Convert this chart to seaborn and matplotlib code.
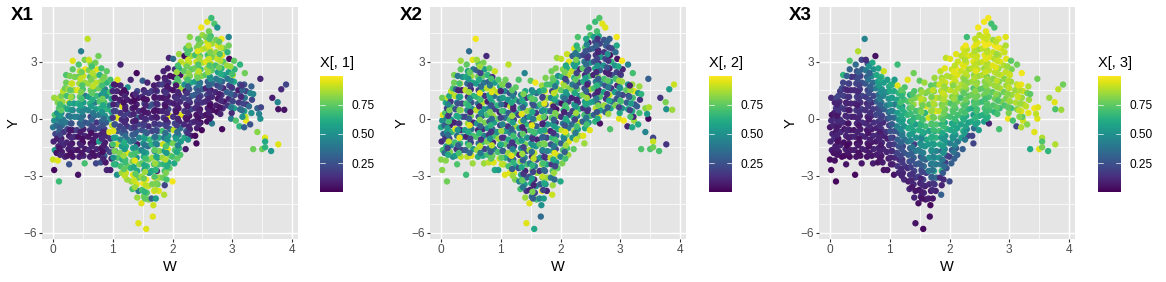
import matplotlib
matplotlib.use("Agg")
import matplotlib.pyplot as plt
from matplotlib.cm import ScalarMappable
from matplotlib.colors import Normalize
from matplotlib.ticker import FixedLocator
import pandas as pd
import seaborn as sns

W = [
.02,.00,.03,.01,.04,.00,.02,.03,.02,
.10,.08,.06,.09,.07,.10,.06,.09,.07,.10,.08,.11,
.20,.15,.17,.14,.18,.15,.17,.14,.18,.16,.14,.17,.20,
.27,.24,.26,.23,.27,.24,.22,.26,.24,.27,.23,.25,.22,.22,
.33,.35,.32,.36,.33,.31,.36,.33,.35,.32,.35,.32,.36,.33,.33,
.42,.44,.41,.45,.42,.40,.45,.41,.44,.42,.45,.41,.44,.42,.45,.43,
.53,.51,.54,.50,.53,.51,.54,.50,.53,.51,.54,.50,.53,.51,.54,.53,.47,
.62,.60,.63,.59,.62,.60,.63,.59,.62,.60,.63,.59,.62,.60,.63,.60,.58,
.72,.70,.73,.69,.72,.70,.73,.69,.72,.70,.73,.69,.72,.70,.73,.71,.76,
.80,.78,.81,.77,.80,.78,.81,.77,.80,.78,.81,.77,.80,.78,.81,
.90,.88,.86,.89,.87,.90,.86,.89,.87,.90,.86,.89,.87,.90,.86,.90,
.96,.98,.95,.99,.96,.94,.99,.96,.98,.95,.98,.95,.99,.96,
1.07,1.05,1.08,1.04,1.07,1.05,1.08,1.04,1.07,1.05,1.08,1.04,1.07,1.05,1.08,
1.15,1.13,1.16,1.12,1.15,1.13,1.16,1.12,1.15,1.13,1.16,1.12,1.15,1.13,1.13,
1.24,1.22,1.25,1.21,1.24,1.22,1.25,1.21,1.24,1.22,1.25,1.21,1.24,1.22,1.25,
1.33,1.31,1.34,1.30,1.33,1.31,1.34,1.30,1.33,1.31,1.34,1.30,1.33,1.31,1.34,1.30,
1.43,1.41,1.43,1.40,1.43,1.41,1.44,1.40,1.43,1.41,1.44,1.40,1.43,1.41,1.44,1.40,1.43,1.41,1.40,
1.48,1.52,1.49,1.51,1.48,1.53,1.49,1.52,1.48,1.51,1.53,1.49,1.52,1.48,1.51,1.53,1.49,1.52,1.50,
1.56,1.60,1.57,1.59,1.56,1.61,1.57,1.60,1.56,1.59,1.61,1.57,1.60,1.56,1.59,1.61,1.57,1.60,1.58,
1.67,1.68,1.65,1.69,1.66,1.70,1.65,1.69,1.66,1.70,1.65,1.69,1.66,1.70,1.65,1.69,1.66,1.70,1.65,1.69,
1.77,1.75,1.78,1.74,1.77,1.75,1.78,1.74,1.77,1.75,1.78,1.74,1.77,1.75,1.78,1.74,1.77,1.75,
1.86,1.87,1.84,1.87,1.85,1.83,1.87,1.84,1.86,1.83,1.87,1.85,1.83,1.87,1.84,1.86,1.83,1.87,1.85,
1.95,1.93,1.96,1.92,1.95,1.93,1.96,1.92,1.95,1.93,1.96,1.92,1.95,1.93,1.96,1.92,1.94,
2.00,2.03,2.00,2.04,2.01,2.05,2.02,2.04,2.01,2.05,2.02,2.04,2.01,2.05,2.02,2.04,2.01,
2.13,2.11,2.14,2.10,2.13,2.11,2.14,2.10,2.13,2.11,2.14,2.10,2.13,2.11,2.14,2.11,
2.22,2.20,2.23,2.19,2.22,2.20,2.23,2.19,2.22,2.20,2.23,2.19,2.22,2.20,2.23,
2.31,2.29,2.32,2.28,2.31,2.29,2.32,2.28,2.31,2.29,2.32,2.28,2.31,2.29,2.29,
2.40,2.38,2.41,2.37,2.40,2.38,2.41,2.37,2.40,2.38,2.41,2.37,2.40,2.38,2.41,
2.49,2.47,2.50,2.46,2.49,2.47,2.50,2.46,2.49,2.47,2.50,2.46,2.49,2.47,2.50,2.48,
2.58,2.56,2.59,2.55,2.58,2.56,2.59,2.55,2.58,2.56,2.59,2.55,2.58,2.56,2.58,
2.66,2.64,2.67,2.63,2.66,2.64,2.67,2.63,2.66,2.64,2.67,2.63,2.66,2.64,2.65,2.70,
2.75,2.73,2.76,2.72,2.75,2.73,2.76,2.72,2.75,2.73,2.76,2.73,2.75,
2.83,2.84,2.86,2.82,2.85,2.83,2.86,2.82,2.85,2.83,2.86,2.82,
2.92,2.94,2.91,2.95,2.92,2.94,2.91,2.95,2.92,2.94,2.94,
2.98,3.03,3.01,3.04,3.00,3.03,3.01,3.04,3.03,
3.12,3.06,3.13,3.11,3.14,3.10,3.13,3.13,
3.20,3.23,3.22,3.20,3.24,3.21,3.23,3.20,3.21,
3.35,3.30,3.32,3.28,3.33,3.30,3.32,
3.42,3.42,3.47,3.48,3.50,3.47,3.45,3.55,3.55,3.55,3.65,3.67,3.77,3.77,3.76,3.82,3.87,3.90,3.35,
]

Y = [
-2.7,-2.15,-1.65,-1.2,-.8,-.45,-.1,.2,1.1,
-3.3,-2.2,-1.8,-1.45,-1.05,-.7,-.35,.0,.3,.55,.85,1.1,
-2.0,-1.75,-1.4,-1.05,-.7,-.35,-.05,.3,.6,.9,1.2,1.45,1.6,
-2.4,-1.95,-1.6,-1.25,-.9,-.55,-.2,.15,.5,.85,1.2,1.55,1.9,2.3,
-2.0,-1.65,-1.3,-.95,-.6,-.25,.1,.45,.8,1.15,1.5,1.85,2.2,2.6,3.05,
-2.95,-2.0,-1.65,-1.3,-.95,-.6,-.25,.1,.45,.8,1.15,1.5,1.85,2.2,2.5,2.85,
-2.35,-1.95,-1.6,-1.25,-.9,-.55,-.2,.15,.5,.85,1.2,1.55,1.9,2.25,2.6,3.1,3.55,
-2.0,-1.65,-1.3,-.95,-.6,-.25,.1,.45,.8,1.15,1.5,1.85,2.2,2.55,2.9,3.1,4.2,
-2.35,-1.95,-1.6,-1.25,-.9,-.55,-.2,.15,.5,.85,1.2,1.55,1.9,2.25,2.6,2.95,3.3,
-2.3,-1.9,-1.55,-1.2,-.85,-.5,-.15,.2,.55,.9,1.25,1.6,1.95,2.3,2.65,
-2.7,-2.3,-1.95,-1.6,-1.25,-.9,-.55,-.2,.15,.5,.85,1.2,1.55,1.9,2.2,2.5,
-2.7,-2.1,-1.75,-1.4,-1.05,-.7,-.35,.0,.35,.7,1.05,1.4,1.7,2.05,
-2.95,-2.4,-2.05,-1.7,-1.35,-1.0,-.65,-.3,.05,.4,.75,1.1,1.45,1.8,2.05,
-2.85,-2.5,-2.15,-1.8,-1.45,-1.1,-.75,-.4,-.05,.3,.65,1.0,1.35,1.75,2.85,
-3.2,-2.85,-2.5,-2.15,-1.8,-1.45,-1.1,-.75,-.4,-.05,.3,.65,1.0,1.35,1.65,
-3.7,-3.3,-2.95,-2.6,-2.25,-1.9,-1.55,-1.2,-.85,-.5,-.15,.2,.55,.9,1.25,2.05,
-5.5,-4.15,-3.8,-3.45,-3.1,-2.75,-2.4,-2.05,-1.7,-1.35,-1.0,-.65,-.3,.05,.4,.75,1.1,1.45,2.4,
-4.45,-4.1,-3.75,-3.4,-3.05,-2.7,-2.35,-2.0,-1.65,-1.3,-.95,-.6,-.25,.1,.45,.8,1.15,1.5,2.0,
-5.8,-4.25,-3.9,-3.55,-3.2,-2.85,-2.5,-2.15,-1.8,-1.45,-1.1,-.75,-.4,-.05,.3,.65,1.0,1.35,1.9,
-5.15,-4.55,-4.2,-3.8,-3.45,-3.1,-2.75,-2.4,-2.05,-1.7,-1.35,-1.0,-.65,-.3,.05,.4,.75,1.1,1.45,1.75,
-3.8,-3.45,-3.1,-2.75,-2.4,-2.05,-1.7,-1.35,-1.0,-.65,-.3,.05,.4,.75,1.1,1.45,1.8,2.15,
-4.0,-3.5,-3.1,-2.75,-2.4,-2.05,-1.7,-1.35,-1.0,-.65,-.3,.05,.4,.75,1.1,1.45,1.8,2.15,2.5,
-2.6,-2.3,-1.95,-1.6,-1.25,-.9,-.55,-.2,.15,.5,.85,1.2,1.55,1.9,2.25,2.65,3.2,
-3.3,-2.35,-2.0,-1.65,-1.3,-.95,-.6,-.25,.1,.45,.8,1.15,1.5,1.85,2.2,2.6,3.15,
-1.9,-1.55,-1.2,-.85,-.5,-.15,.2,.55,.9,1.25,1.6,1.95,2.3,2.65,3.0,3.4,
-1.6,-1.0,-.65,-.3,.05,.4,.75,1.1,1.45,1.8,2.15,2.5,2.85,3.3,3.7,
-.9,-.55,-.2,.15,.5,.85,1.2,1.55,1.9,2.25,2.6,2.95,3.3,3.65,4.3,
-1.3,-.9,-.5,-.15,.2,.55,.9,1.25,1.6,1.95,2.3,2.65,3.0,3.35,3.75,
-.6,-.2,.15,.5,.85,1.2,1.55,1.9,2.25,2.6,2.95,3.3,3.65,4.0,4.4,4.8,
-.15,.2,.55,.9,1.25,1.6,1.95,2.3,2.65,3.0,3.35,3.7,4.05,4.3,5.1,
-.25,.1,.45,.8,1.15,1.5,1.85,2.2,2.55,2.9,3.25,3.6,3.95,4.35,5.3,5.0,
.35,.7,1.05,1.4,1.75,2.1,2.45,2.8,3.15,3.5,3.85,4.15,4.8,
-.55,.55,.9,1.25,1.6,1.95,2.3,2.65,3.0,3.35,3.7,4.2,
.7,1.05,1.4,1.75,2.1,2.45,2.8,3.15,3.5,3.85,4.3,
.0,.55,.9,1.25,1.6,1.95,2.3,2.6,3.05,
-.4,-.1,.5,.85,1.2,1.5,1.8,2.85,
-.45,-.1,.1,.4,.75,1.1,1.45,1.8,2.4,
-1.6,-.3,.3,.65,1.0,1.35,1.7,
-.7,.55,2.1,.6,-1.6,.0,.25,-1.0,-1.2,-1.5,-1.7,1.1,.5,-1.35,.87,1.55,.47,1.8,1.3,
]

X1 = [
.02,.92,.55,.1,.2,.4,.5,.72,.85,
.68,.95,.05,.1,.08,.3,.35,.45,.5,.72,.8,.88,
.1,.08,.12,.06,.15,.35,.42,.48,.65,.85,.8,.9,.78,
.25,.05,.08,.1,.07,.2,.4,.35,.6,.95,.7,.85,.78,.72,
.05,.1,.06,.15,.08,.3,.45,.38,.55,.7,.85,.92,.8,.75,.95,
.05,.08,.05,.1,.04,.18,.3,.42,.5,.62,.75,.95,.85,.78,.9,.72,
.7,.1,.06,.04,.12,.08,.25,.35,.48,.55,.4,.72,.85,.92,.98,.8,.42,
.08,.12,.04,.06,.15,.28,.2,.45,.65,.55,.78,.85,.72,.8,.82,.92,.9,
.2,.05,.1,.04,.08,.2,.15,.35,.55,.42,.68,.72,.9,.85,.95,.78,.78,
.25,.08,.05,.55,.1,.22,.3,.4,.62,.72,.5,.78,.85,.65,.7,
.1,.06,.3,.15,.08,.12,.18,.3,.5,.65,.72,.5,.42,.65,.8,.75,
.08,.1,.2,.12,.15,.95,.9,.5,.6,.45,.55,.7,.62,.7,
.5,.58,.72,.45,.9,.6,.25,.3,.95,.25,.18,.1,.1,.05,.95,
.85,.7,.62,.8,.55,.45,.3,.2,.12,.15,.95,.08,.05,.1,.1,
.85,.92,.78,.7,.95,.6,.4,.25,.15,.1,.22,.12,.08,.05,.5,
.7,.85,.95,.65,.8,.72,.55,.45,.3,.22,.1,.15,.08,.05,.04,.1,
.95,.85,.4,.95,.75,.6,.82,.5,.72,.08,.45,.3,.2,.35,.12,.1,.05,.22,.02,
.95,.8,.7,.98,.85,.55,.75,.62,.45,.5,.6,.25,.15,.1,.05,.2,.12,.08,.3,
.95,.8,.72,.92,.98,.5,.65,.78,.6,.35,.7,.25,.12,.2,.08,.3,.05,.15,.1,
.95,.92,.3,.95,.8,.98,.6,.72,.85,.45,.65,.55,.2,.3,.12,.05,.25,.1,.18,.08,
.95,.75,.85,.1,.7,.55,.8,.4,.6,.25,.18,.1,.06,.15,.08,.2,.12,.05,
.88,.2,.78,.7,.65,.85,.55,.92,.4,.7,.2,.15,.1,.08,.05,.12,.18,.06,.1,
.75,.6,.82,.95,.65,.55,.3,.15,.98,.2,.1,.05,.08,.12,.04,.08,.1,
.98,.6,.7,.72,.8,.45,.9,.2,.15,.1,.08,.12,.05,.7,.04,.15,.35,
.72,.65,.55,.45,.35,.1,.95,.06,.12,.1,.85,.75,.05,.65,.9,.85,
.08,.6,.3,.12,.08,.15,.1,.2,.05,.5,.85,.75,.9,.03,.72,
.08,.1,.15,.05,.2,.12,.3,.25,.6,.8,.75,.9,.85,.72,.82,
.02,.02,.08,.1,.05,.12,.2,.3,.35,.55,.85,.78,.92,.7,.8,
.02,.05,.1,.06,.15,.2,.3,.35,.82,.7,.88,.75,.92,.8,.85,.98,
.03,.05,.08,.12,.2,.1,.3,.75,.85,.95,.7,.88,.92,.8,.95,
.4,.08,.04,.1,.12,.05,.35,.55,.75,.9,.8,.95,.85,.7,.68,.72,
.03,.08,.05,.12,.2,.4,.55,.7,.92,.85,.95,.8,.5,
.02,.12,.06,.15,.1,.3,.55,.65,.75,.95,.8,.98,
.15,.1,.3,.2,.4,.55,.85,.02,.65,.78,.45,
.42,.55,.3,.2,.35,.6,.9,.65,.75,
.65,.72,.35,.15,.25,.08,.3,.65,
.3,.98,.9,.55,.15,.4,.2,.25,.78,
.78,.25,.5,.35,.2,.45,.3,
.82,.3,.1,.2,.78,.5,.45,.95,.6,.65,.52,.08,.05,.95,.45,.12,.05,.2,.45,
]

X2 = [
.82,.82,.7,.12,.3,.6,.5,.95,.78,
.78,.82,.35,.6,.15,.5,.3,.45,.72,.2,.6,.9,
.45,.8,.5,.2,.65,.08,.55,.3,.7,.15,.6,.9,.72,
.72,.55,.15,.7,.35,.95,.1,.6,.25,.5,.9,.35,.78,.8,
.9,.2,.65,.45,.12,.7,.3,.85,.2,.6,.08,.95,.5,.75,.85,
.68,.9,.3,.6,.1,.55,.85,.2,.45,.7,.15,.9,.35,.6,.55,.75,
.85,.95,.55,.2,.7,.35,.1,.8,.5,.25,.65,.12,.6,.85,.4,.95,.35,
.6,.85,.35,.72,.1,.5,.25,.9,.4,.65,.2,.55,.78,.3,.7,.85,.98,
.85,.6,.2,.7,.45,.12,.8,.3,.55,.9,.15,.65,.4,.75,.55,.8,.12,
.9,.7,.35,.8,.15,.55,.25,.7,.45,.1,.6,.9,.3,.65,.75,
.6,.95,.78,.4,.12,.7,.3,.55,.85,.2,.65,.35,.9,.55,.15,.92,
.55,.92,.7,.3,.85,.5,.2,.75,.1,.65,.4,.9,.55,.72,
.95,.88,.6,.3,.75,.15,.55,.85,.35,.6,.1,.7,.45,.8,.78,
.95,.7,.35,.85,.2,.6,.45,.15,.7,.3,.9,.5,.25,.22,.9,
.8,.95,.55,.3,.75,.15,.6,.4,.85,.2,.5,.1,.65,.3,.75,
.7,.45,.6,.25,.85,.1,.5,.7,.3,.55,.9,.2,.65,.35,.5,.72,
.95,.85,.15,.55,.3,.1,.7,.45,.25,.8,.5,.12,.65,.3,.85,.55,.15,.6,.45,
.95,.35,.1,.6,.25,.75,.4,.15,.85,.5,.3,.7,.1,.55,.8,.25,.65,.45,.75,
.6,.7,.2,.5,.12,.85,.4,.25,.9,.55,.1,.65,.3,.8,.15,.5,.7,.35,.98,
.35,.5,.45,.95,.3,.7,.15,.85,.5,.2,.75,.35,.6,.1,.9,.4,.7,.25,.55,.85,
.1,.5,.85,.3,.6,.15,.45,.75,.2,.9,.5,.1,.65,.3,.85,.95,.7,.8,
.92,.85,.4,.7,.15,.9,.5,.25,.65,.1,.55,.75,.3,.9,.45,.2,.7,.8,.78,
.75,.5,.9,.2,.7,.35,.6,.15,.8,.05,.4,.7,.9,.6,.5,.8,.85,
.6,.8,.45,.72,.3,.55,.9,.4,.15,.65,.05,.5,.75,.95,.65,.82,.9,
.85,.7,.95,.75,.4,.6,.2,.7,.15,.5,.82,.3,.9,.65,.95,.92,
.75,.5,.85,.35,.65,.2,.55,.1,.8,.4,.6,.9,.55,.3,.95,
.85,.55,.9,.4,.65,.15,.5,.75,.2,.8,.1,.6,.35,.7,.72,
.85,.95,.6,.3,.7,.15,.55,.8,.25,.6,.1,.75,.4,.2,.75,
.95,.5,.7,.25,.6,.1,.85,.35,.7,.15,.5,.2,.25,.12,.72,.7,
.65,.3,.9,.55,.15,.7,.4,.1,.6,.25,.15,.3,.2,.55,.68,
.05,.95,.55,.2,.7,.1,.45,.8,.3,.15,.55,.12,.2,.6,.72,.95,
.3,.85,.15,.6,.25,.7,.1,.5,.2,.15,.3,.25,.95,
.72,.6,.35,.9,.15,.55,.25,.1,.65,.05,.2,.3,
.8,.25,.55,.1,.7,.2,.5,.05,.35,.6,.98,
.95,.5,.75,.2,.6,.85,.25,.1,.98,
.1,.98,.6,.3,.15,.75,.5,.45,
.6,.85,.1,.6,.25,.7,.95,.85,.7,
.72,.6,.7,.3,.15,.5,.85,
.45,.82,.3,.88,.72,.02,.55,.2,.92,.78,.7,.15,.5,.15,.8,.55,.85,.92,.65,
]

X3 = [
.03,.03,.08,.1,.1,.06,.12,.05,.12,
.02,.04,.05,.08,.12,.06,.1,.13,.08,.15,.1,.2,
.03,.06,.1,.05,.12,.08,.14,.1,.18,.12,.2,.16,.22,
.05,.03,.08,.04,.1,.06,.12,.1,.15,.08,.18,.14,.2,.65,
.03,.07,.05,.1,.06,.12,.08,.14,.1,.16,.12,.2,.15,.3,.72,
.03,.05,.08,.04,.1,.06,.12,.09,.15,.1,.18,.12,.2,.16,.25,.35,
.06,.05,.09,.06,.12,.08,.14,.1,.18,.13,.22,.16,.25,.2,.3,.2,.88,
.05,.08,.06,.1,.07,.12,.09,.14,.11,.17,.2,.26,.3,.4,.25,.12,.45,
.08,.05,.1,.06,.12,.08,.14,.1,.17,.13,.22,.3,.35,.45,.5,.6,.05,
.05,.08,.1,.07,.12,.09,.15,.2,.18,.3,.35,.42,.55,.6,.58,
.05,.08,.06,.1,.12,.09,.15,.12,.2,.3,.4,.45,.5,.55,.65,.92,
.05,.07,.1,.12,.08,.15,.18,.22,.35,.42,.5,.48,.6,.55,
.05,.08,.12,.15,.18,.12,.25,.3,.35,.45,.4,.5,.6,.55,.55,
.1,.15,.12,.2,.25,.3,.28,.45,.5,.55,.62,.58,.65,.95,.68,
.12,.1,.18,.15,.25,.2,.35,.45,.5,.58,.62,.55,.68,.72,.72,
.1,.08,.15,.12,.22,.28,.3,.4,.52,.6,.58,.65,.7,.72,.62,.95,
.05,.1,.06,.12,.15,.2,.25,.3,.42,.18,.5,.6,.55,.65,.7,.85,.8,.72,.78,
.04,.08,.05,.1,.18,.2,.28,.25,.42,.5,.55,.62,.65,.7,.75,.88,.82,.78,.75,
.02,.06,.1,.08,.2,.18,.35,.3,.45,.5,.6,.55,.68,.72,.65,.95,.85,.8,.85,
.04,.02,.08,.05,.12,.3,.4,.35,.5,.42,.55,.62,.58,.68,.92,.85,.78,.9,.82,.75,
.1,.15,.35,.6,.4,.5,.45,.55,.65,.6,.72,.78,.95,.85,.9,.82,.78,.85,
.3,.1,.12,.65,.4,.5,.35,.6,.55,.7,.65,.8,.9,.78,.85,.88,.92,.85,.9,
.25,.18,.2,.45,.55,.5,.65,.6,.72,.78,.82,.9,.85,.92,.88,.95,.9,
.22,.3,.18,.28,.42,.5,.6,.58,.7,.75,.72,.82,.9,.95,.88,.92,.95,
.3,.28,.4,.5,.58,.65,.7,.72,.78,.82,.88,.9,.95,.98,.92,.95,
.3,.55,.62,.58,.65,.72,.78,.7,.82,.88,.85,.92,.95,.9,.95,
.2,.45,.55,.6,.65,.72,.75,.8,.82,.88,.85,.92,.95,.9,.68,
.2,.2,.35,.6,.55,.62,.7,.78,.72,.85,.82,.9,.95,.92,.98,
.55,.6,.62,.68,.72,.78,.75,.82,.85,.9,.88,.92,.85,.95,.9,.98,
.55,.62,.7,.68,.78,.75,.82,.88,.85,.92,.95,.9,.98,.92,.98,
.1,.65,.7,.75,.72,.8,.85,.78,.9,.88,.95,.85,.98,.92,.98,.7,
.65,.72,.78,.75,.85,.82,.9,.95,.88,.92,.98,.85,.7,
.7,.68,.8,.75,.88,.82,.92,.85,.95,.9,.92,.95,
.72,.8,.78,.85,.82,.9,.88,.95,.92,.88,.95,
.98,.7,.82,.85,.9,.85,.92,.8,.75,
.2,.7,.8,.88,.92,.85,.9,.78,
.88,.92,.75,.95,.88,.85,.92,.98,.98,
.6,.82,.95,.9,.85,.8,.88,
.95,.98,.78,.95,.95,.95,.9,.88,.72,.8,.65,.85,.72,.88,.95,.9,.85,.78,.75,
]

# Second set of points, read from the dense core of the cloud
W_CORE = [
.12,.11,.13,.12,.11,.13,.12,.14,.12,
.30,.29,.31,.28,.30,.29,.31,.28,.30,.29,.31,.28,
.48,.47,.49,.46,.48,.47,.49,.46,.48,.47,.49,.46,.48,
.66,.65,.67,.64,.66,.65,.67,.64,.66,.65,.67,.64,.66,.65,
.84,.83,.85,.82,.84,.83,.85,.82,.84,.83,.85,.82,.84,
1.02,1.01,1.03,1.00,1.02,1.01,1.03,1.00,1.02,1.01,1.03,1.00,1.02,
1.20,1.19,1.21,1.18,1.20,1.19,1.21,1.18,1.20,1.19,1.21,1.18,1.20,1.19,
1.37,1.36,1.38,1.35,1.37,1.36,1.38,1.35,1.37,1.36,1.38,1.35,1.37,1.36,1.38,
1.54,1.53,1.55,1.52,1.54,1.53,1.55,1.52,1.54,1.53,1.55,1.52,1.54,1.53,1.55,1.52,1.54,
1.72,1.71,1.73,1.70,1.72,1.71,1.73,1.70,1.72,1.71,1.73,1.70,1.72,1.71,1.73,1.70,1.72,
1.90,1.89,1.91,1.88,1.90,1.89,1.91,1.88,1.90,1.89,1.91,1.88,1.90,1.89,1.91,1.88,
2.08,2.07,2.09,2.06,2.08,2.07,2.09,2.06,2.08,2.07,2.09,2.06,2.08,2.07,2.09,
2.26,2.25,2.27,2.24,2.26,2.25,2.27,2.24,2.26,2.25,2.27,2.24,2.26,2.25,2.27,
2.44,2.43,2.45,2.42,2.44,2.43,2.45,2.42,2.44,2.43,2.45,2.42,2.44,2.43,
2.62,2.61,2.63,2.60,2.62,2.61,2.63,2.60,2.62,2.61,2.63,2.60,2.62,2.61,
2.80,2.79,2.81,2.78,2.80,2.79,2.81,2.78,2.80,2.79,2.81,2.78,
2.99,2.98,3.00,2.97,2.99,2.98,3.00,2.97,
3.17,3.16,3.18,3.15,3.17,3.16,
]

Y_CORE = [
-1.9,-1.55,-1.2,-.85,-.5,-.15,.15,.45,.75,
-1.8,-1.4,-1.0,-.6,-.25,.1,.45,.8,1.15,1.5,1.85,2.25,
-1.8,-1.4,-1.05,-.7,-.35,.0,.35,.7,1.05,1.4,1.75,2.1,2.45,
-1.8,-1.45,-1.1,-.75,-.4,-.05,.3,.65,1.0,1.35,1.7,2.05,2.4,2.75,
-2.1,-1.75,-1.4,-1.05,-.7,-.35,.0,.35,.7,1.05,1.4,1.75,2.1,
-2.4,-2.05,-1.7,-1.35,-1.0,-.65,-.3,.05,.4,.75,1.1,1.45,1.8,
-3.0,-2.65,-2.3,-1.95,-1.6,-1.25,-.9,-.55,-.2,.15,.5,.85,1.2,1.5,
-3.6,-3.25,-2.9,-2.55,-2.2,-1.85,-1.5,-1.15,-.8,-.45,-.1,.25,.6,.95,1.3,
-4.2,-3.85,-3.5,-3.15,-2.8,-2.45,-2.1,-1.75,-1.4,-1.05,-.7,-.35,.0,.35,.7,1.05,1.4,
-4.2,-3.75,-3.4,-3.05,-2.7,-2.35,-2.0,-1.65,-1.3,-.95,-.6,-.25,.1,.45,.8,1.15,1.5,
-3.2,-2.85,-2.5,-2.15,-1.8,-1.45,-1.1,-.75,-.4,-.05,.3,.65,1.0,1.35,1.7,2.05,
-2.1,-1.75,-1.4,-1.05,-.7,-.35,.0,.35,.7,1.05,1.4,1.75,2.1,2.45,2.8,
-1.1,-.75,-.4,-.05,.3,.65,1.0,1.35,1.7,2.05,2.4,2.75,3.1,3.45,3.85,
-.3,.05,.4,.75,1.1,1.45,1.8,2.15,2.5,2.85,3.2,3.55,3.9,4.2,
.0,.35,.7,1.05,1.4,1.75,2.1,2.45,2.8,3.15,3.5,3.85,4.2,4.6,
.25,.6,.95,1.3,1.65,2.0,2.35,2.7,3.05,3.4,3.75,4.05,
.3,.6,.95,1.3,1.65,2.0,2.35,2.75,
.1,.45,.8,1.15,1.5,1.75,
]

X1_CORE = [
.1,.06,.12,.2,.3,.4,.55,.75,.7,
.04,.08,.12,.06,.25,.4,.5,.6,.85,.75,.92,.8,
.06,.1,.04,.08,.3,.38,.45,.58,.7,.8,.72,.9,.78,
.05,.1,.07,.04,.2,.32,.4,.55,.62,.75,.9,.8,.88,.7,
.1,.04,.08,.12,.1,.25,.35,.5,.6,.78,.55,.7,.8,
.65,.5,.8,.7,.55,.95,.25,.15,.2,.1,.06,.12,.08,
.9,.75,.68,.85,.55,.62,.35,.22,.12,.18,.08,.05,.1,.04,
.85,.92,.75,.6,.95,.7,.5,.35,.28,.15,.08,.1,.05,.03,.12,
.75,.65,.9,.78,.85,.6,.7,.5,.4,.55,.3,.18,.12,.06,.1,.04,.15,
.55,.9,.8,.72,.65,.85,.6,.75,.45,.35,.22,.15,.08,.05,.12,.06,.1,
.7,.8,.62,.88,.55,.72,.5,.35,.18,.1,.12,.05,.08,.15,.06,.1,
.75,.6,.45,.55,.35,.18,.1,.05,.08,.14,.1,.06,.72,.85,.7,
.5,.15,.1,.06,.12,.08,.18,.15,.3,.7,.82,.78,.92,.72,.85,
.1,.05,.08,.12,.15,.25,.4,.78,.9,.72,.85,.95,.8,.75,
.05,.08,.03,.1,.14,.3,.5,.85,.72,.92,.8,.95,.72,.78,
.1,.05,.12,.08,.25,.42,.62,.78,.88,.72,.9,.75,
.12,.4,.2,.3,.15,.45,.7,.85,
.5,.35,.2,.12,.3,.15,
]

X2_CORE = [
.6,.2,.9,.35,.55,.7,.15,.8,.45,
.7,.3,.95,.5,.15,.6,.8,.25,.55,.1,.7,.4,
.35,.75,.2,.6,.95,.3,.1,.65,.45,.85,.2,.55,.75,
.4,.9,.15,.65,.3,.8,.5,.1,.7,.95,.35,.6,.2,.85,
.75,.3,.9,.5,.15,.65,.35,.8,.25,.6,.95,.4,.7,
.9,.75,.3,.6,.15,.85,.45,.2,.7,.35,.55,.1,.8,
.85,.3,.65,.95,.45,.15,.7,.3,.55,.85,.1,.6,.4,.75,
.4,.75,.15,.6,.3,.85,.2,.55,.75,.1,.45,.95,.3,.6,.8,
.3,.8,.1,.55,.2,.65,.9,.35,.5,.15,.7,.95,.4,.6,.25,.75,.5,
.55,.2,.6,.9,.35,.7,.15,.45,.8,.3,.6,.1,.75,.5,.95,.2,.65,
.35,.85,.2,.6,.95,.4,.7,.15,.55,.3,.8,.1,.6,.9,.4,.75,
.7,.3,.85,.45,.95,.25,.6,.1,.7,.35,.55,.85,.2,.8,.6,
.9,.4,.7,.2,.85,.5,.1,.6,.3,.75,.2,.55,.8,.4,.65,
.7,.4,.15,.6,.85,.3,.1,.55,.2,.35,.15,.25,.45,.6,
.6,.25,.8,.4,.1,.65,.3,.12,.5,.2,.1,.3,.15,.7,
.85,.3,.6,.15,.4,.75,.1,.25,.15,.5,.2,.3,
.6,.2,.7,.3,.5,.85,.15,.6,
.7,.2,.55,.3,.85,.1,
]

X3_CORE = [
.05,.08,.04,.1,.07,.12,.06,.15,.1,
.06,.03,.08,.1,.05,.12,.07,.1,.14,.1,.18,.3,
.04,.07,.05,.09,.06,.1,.13,.08,.15,.12,.18,.22,.3,
.07,.05,.09,.06,.11,.08,.13,.15,.2,.24,.3,.38,.32,.5,
.06,.09,.07,.1,.08,.13,.18,.22,.3,.42,.48,.55,.6,
.08,.1,.12,.15,.2,.25,.28,.32,.42,.5,.55,.6,.62,
.1,.12,.16,.2,.25,.32,.4,.48,.55,.6,.62,.7,.65,.75,
.06,.1,.14,.18,.25,.3,.38,.45,.55,.6,.65,.68,.75,.8,.72,
.05,.08,.12,.1,.2,.28,.35,.42,.5,.45,.6,.65,.7,.8,.78,.9,.85,
.06,.12,.15,.3,.38,.42,.45,.5,.55,.62,.68,.72,.78,.85,.88,.8,.9,
.12,.28,.35,.4,.5,.55,.52,.6,.68,.72,.78,.82,.88,.92,.85,.9,
.3,.38,.45,.5,.58,.6,.68,.72,.75,.85,.88,.82,.92,.95,.9,
.4,.55,.58,.62,.7,.72,.78,.75,.85,.82,.9,.95,.88,.92,.98,
.58,.65,.7,.72,.78,.82,.85,.88,.95,.9,.92,.88,.95,.9,
.62,.68,.72,.7,.78,.82,.85,.92,.88,.95,.9,.98,.92,.95,
.7,.75,.72,.82,.85,.9,.88,.95,.92,.85,.98,.9,
.8,.75,.85,.82,.9,.88,.92,.85,
.82,.9,.85,.92,.88,.95,
]

W_TICKS = [0, 1, 2, 3, 4]
Y_TICKS = [-6, -3, 0, 3]
CBAR_TICKS = [0.25, 0.50, 0.75]
PANEL_TITLES = ["X1", "X2", "X3"]
LEGEND_TITLES = ["X[, 1]", "X[, 2]", "X[, 3]"]

df = pd.DataFrame({"W": W + W_CORE, "Y": Y + Y_CORE, "X1": X1 + X1_CORE,
                   "X2": X2 + X2_CORE, "X3": X3 + X3_CORE})

sns.set_theme(style="white")
plt.rcParams["font.family"] = ["Liberation Sans", "DejaVu Sans"]

FW, FH = 1166, 282
fig = plt.figure(figsize=(FW / 100, FH / 100), dpi=100, facecolor="white")

def rect(l, t, r, b):
    return [l / FW, 1 - b / FH, (r - l) / FW, (b - t) / FH]

panel_lefts = [42, 430, 819]
legend_lefts = [320, 709, 1098]
title_lefts = [11, 400, 789]
grey = "#4D4D4D"
norm = Normalize(0, 1)

for i, col in enumerate(PANEL_TITLES):
    l = panel_lefts[i]
    ax = fig.add_axes(rect(l, 7, l + 256, 239))
    sns.scatterplot(data=df, x="W", y="Y", hue=col, palette="viridis",
                    hue_norm=norm, s=21, linewidth=0, alpha=1, legend=False,
                    ax=ax, zorder=3)
    ax.set_facecolor("#E5E5E5")
    ax.set_xlim(-0.184, 4.1)
    ax.set_ylim(-6.33, 5.88)
    ax.set_xticks(W_TICKS)
    ax.set_yticks(Y_TICKS)
    ax.xaxis.set_minor_locator(FixedLocator([0.5, 1.5, 2.5, 3.5]))
    ax.yaxis.set_minor_locator(FixedLocator([-4.5, -1.5, 1.5, 4.5]))
    ax.grid(which="major", color="white", linewidth=1.0)
    ax.grid(which="minor", color="white", linewidth=0.5)
    ax.set_axisbelow(True)
    for s in ax.spines.values():
        s.set_visible(False)
    ax.tick_params(which="major", length=2.2, width=0.8, color="#333333",
                   labelsize=8.6, labelcolor=grey, pad=1.5,
                   bottom=True, left=True)
    ax.tick_params(which="minor", length=0)
    ax.set_xlabel("W", fontsize=10.5, color="black", labelpad=2.5)
    ax.set_ylabel("Y", fontsize=10.5, color="black", labelpad=2)

    fig.text(title_lefts[i] / FW, 1 - 20 / FH, col, fontsize=13.5,
             fontweight="bold", color="black", ha="left", va="baseline")

    ll = legend_lefts[i]
    cax = fig.add_axes(rect(ll, 76, ll + 23, 192))
    cb = fig.colorbar(ScalarMappable(norm=norm, cmap="viridis"), cax=cax)
    cb.outline.set_visible(False)
    cb.set_ticks(CBAR_TICKS)
    cb.set_ticklabels(["0.25", "0.50", "0.75"])
    cax.tick_params(length=0, labelsize=8.6, labelcolor="black", pad=6)
    for t in CBAR_TICKS:
        cax.plot([0, 0.2], [t, t], color="white", lw=0.5, transform=cax.get_yaxis_transform())
        cax.plot([0.8, 1], [t, t], color="white", lw=0.5, transform=cax.get_yaxis_transform())
    fig.text(ll / FW, 1 - 67 / FH, LEGEND_TITLES[i], fontsize=10.5,
             color="black", ha="left", va="baseline")

fig.savefig("out.png", dpi=100, facecolor="white")
